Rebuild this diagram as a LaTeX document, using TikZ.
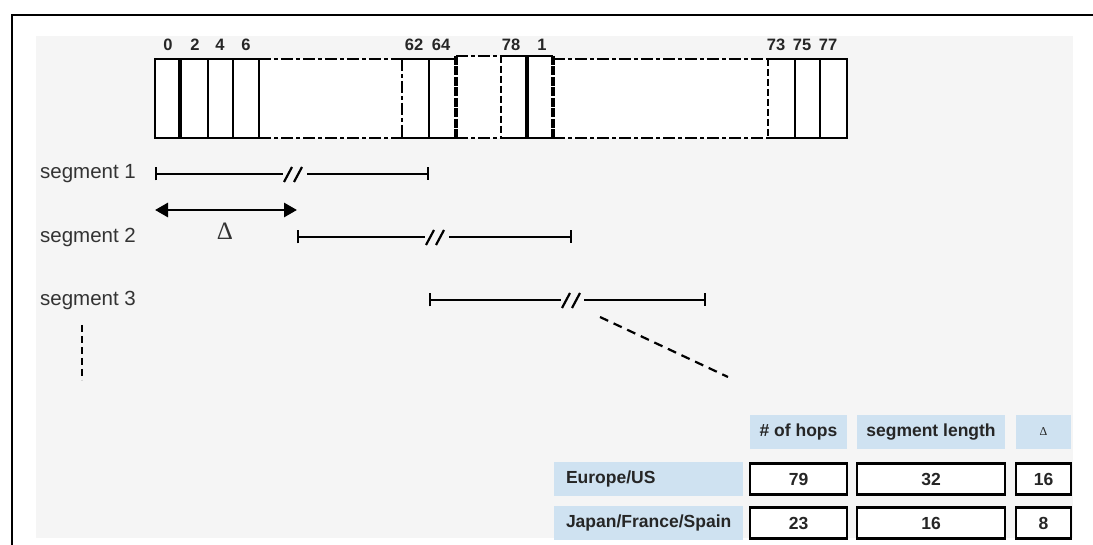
\documentclass[tikz,border=0pt]{standalone}
\usepackage{fontspec}
\setmainfont{Liberation Sans}
\newfontfamily\greekserif{Liberation Serif}
\usetikzlibrary{arrows.meta}
\definecolor{hdblue}{HTML}{CFE2F1}
\definecolor{paper}{HTML}{F5F5F5}

\begin{document}
\begin{tikzpicture}[x=1pt,y=-1pt,
    thin cell/.style={line width=1.8pt},
    heavy/.style={line width=3.5pt},
    dashdot/.style={line width=1.8pt,dash pattern=on 12pt off 3pt on 4pt off 3pt},
    seg/.style={line width=2.2pt},
    num/.style={font=\fontsize{16.5}{18}\selectfont\bfseries,text=black!85},
    seglbl/.style={font=\fontsize{20.5}{22}\selectfont,text=black!80,anchor=west,inner sep=0pt},
    tab/.style={font=\fontsize{17.5}{19}\selectfont\bfseries,minimum height=34pt,inner sep=0pt,text=black!85},
    head/.style={tab,fill=hdblue},
    val/.style={tab,draw,line width=2.2pt,fill=white,minimum height=31pt}]

    \useasboundingbox (0,0) rectangle (1093,545);
    % frame
    \fill[paper] (36,36) rectangle (1073,538);
    \draw[line width=2pt] (11.5,545) -- (11.5,15) -- (1093,15);

    % hops
    \begin{scope}
        \fill[white] (155,59) rectangle (847,138);
        \fill[white] (456,56) rectangle (553,138);
        % solid parts
        \draw[thin cell] (259,59) -- (155,59) -- (155,138) -- (259,138);
        \draw[thin cell] (402,59) -- (456,59);
        \draw[thin cell] (402,138) -- (456,138);
        \draw[thin cell] (500,56) -- (553,56);
        \draw[thin cell] (500,138) -- (553,138);
        \draw[thin cell] (768,59) -- (847,59) -- (847,138) -- (768,138);
        % dashed parts
        \draw[dashdot] (259,59) -- (402,59);
        \draw[dashdot] (259,138) -- (402,138);
        \draw[dashdot] (456,56) -- (500,56);
        \draw[dashdot] (456,138) -- (500,138);
        \draw[dashdot] (553,59) -- (768,59);
        \draw[dashdot] (553,138) -- (768,138);
        % cell walls
        \draw[heavy] (180,59) -- (180,138);
        \draw[thin cell] (208,59) -- (208,138);
        \draw[thin cell] (233,59) -- (233,138);
        \draw[thin cell] (259,59) -- (259,138);
        \draw[dashdot] (402,59) -- (402,138);
        \draw[thin cell] (429,59) -- (429,138);
        \draw[heavy,dash pattern=on 9pt off 1.5pt] (456,56) -- (456,138);
        \draw[line width=1.8pt,dash pattern=on 7pt off 3pt] (501,56) -- (501,138);
        \draw[heavy] (527,56) -- (527,138);
        \draw[heavy,dash pattern=on 9pt off 1.5pt] (553,56) -- (553,138);
        \draw[line width=1.8pt,dash pattern=on 7pt off 3pt] (768,59) -- (768,138);
        \draw[thin cell] (795,59) -- (795,138);
        \draw[thin cell] (820,59) -- (820,138);

        \node[num] (h0) at (168,45) {0};
        \node[num] (h2) at (195,45) {2};
        \node[num] (h4) at (220,45) {4};
        \node[num] (h6) at (246,45) {6};
        \node[num] (h62) at (414,45) {62};
        \node[num] (h64) at (441,45) {64};
        \node[num] (h78) at (511,45) {78};
        \node[num] (h1) at (542,45) {1};
        \node[num] (h73) at (776,45) {73};
        \node[num] (h75) at (802,45) {75};
        \node[num] (h77) at (828,45) {77};
    \end{scope}

    % segment 1
    \node[seglbl] (seg1) at (40,174) {segment 1};
    \coordinate (s1a) at (155,174);
    \coordinate (s1l) at (283,174);
    \coordinate (s1r) at (307,174);
    \coordinate (s1b) at (429,174);
    \draw[seg,{Bar[width=13pt]}-] (s1a) -- (s1l);
    \draw[seg,-{Bar[width=13pt]}] (s1r) -- (s1b);
    \draw[seg] (284,182) -- (292,167);
    \draw[seg] (294,182) -- (302,167);

    % delta
    \coordinate (da) at (155,210);
    \coordinate (db) at (297,210);
    \draw[line width=2.8pt,{Triangle[length=13pt,width=14pt]}-{Triangle[length=13pt,width=14pt]}] (da) -- (db);
    \node[font=\fontsize{25}{27}\selectfont\greekserif,text=black!80] (dlbl) at (225,231) {Δ};

    % segment 2
    \node[seglbl] (seg2) at (40,237) {segment 2};
    \coordinate (s2a) at (297,237);
    \coordinate (s2l) at (425,237);
    \coordinate (s2r) at (449,237);
    \coordinate (s2b) at (572,237);
    \draw[seg,{Bar[width=13pt]}-] (s2a) -- (s2l);
    \draw[seg,-{Bar[width=13pt]}] (s2r) -- (s2b);
    \draw[seg] (426,245) -- (434,230);
    \draw[seg] (436,245) -- (444,230);

    % segment 3
    \node[seglbl] (seg3) at (40,300) {segment 3};
    \coordinate (s3a) at (429,300);
    \coordinate (s3l) at (561,300);
    \coordinate (s3r) at (584,300);
    \coordinate (s3b) at (706,300);
    \draw[seg,{Bar[width=13pt]}-] (s3a) -- (s3l);
    \draw[seg,-{Bar[width=13pt]}] (s3r) -- (s3b);
    \draw[seg] (562,308) -- (570,293);
    \draw[seg] (572,308) -- (580,293);

    % more
    \coordinate (va) at (82,325);
    \coordinate (vb) at (82,380);
    \draw[line width=2.2pt,dash pattern=on 7pt off 4pt] (va) -- (vb);
    \coordinate (ga) at (600,317);
    \coordinate (gb) at (728,377);
    \draw[line width=2.2pt,dash pattern=on 9pt off 6pt] (ga) -- (gb);

    % table
    \node[head,minimum width=97pt] (thops) at (798.5,432) {\# of hops};
    \node[head,minimum width=148pt] (tlen) at (931,432) {segment length};
    \node[head,minimum width=55pt] (tdel) at (1043.5,432) {\normalfont\fontsize{12}{13}\selectfont\greekserif Δ};

    \node[head,text width=165pt,inner xsep=12pt,align=left] (reu) at (648.5,479) {Europe/US};
    \node[val,minimum width=97pt] (eu79) at (798.5,479) {79};
    \node[val,minimum width=148pt] (eu32) at (931,479) {32};
    \node[val,minimum width=55pt] (eu16) at (1043.5,479) {16};

    \node[head,text width=165pt,inner xsep=12pt,align=left] (rjp) at (648.5,523) {Japan/France/Spain};
    \node[val,minimum width=97pt] (jp23) at (798.5,523) {23};
    \node[val,minimum width=148pt] (jp16) at (931,523) {16};
    \node[val,minimum width=55pt] (jp8) at (1043.5,523) {8};
\end{tikzpicture}
\end{document}
